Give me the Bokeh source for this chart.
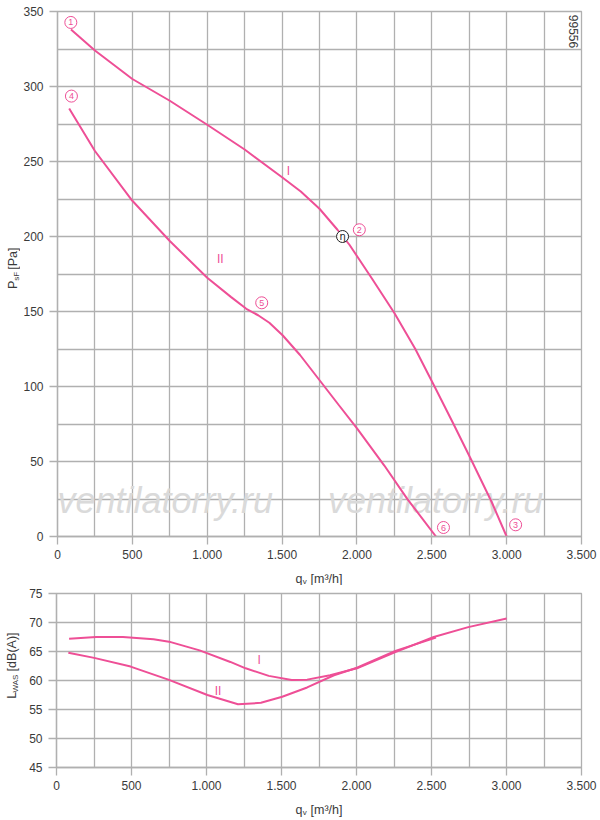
import math
from bokeh.plotting import figure
from bokeh.layouts import column, row
from bokeh.models import FixedTicker, Label, Range1d, CustomJSTickFormatter
from bokeh.core.properties import value
from bokeh.embed import file_html
from bokeh.resources import INLINE

# ---------------- data ----------------
x_major = [0, 500, 1000, 1500, 2000, 2500, 3000, 3500]
x_minor = [250, 750, 1250, 1750, 2250, 2750, 3250]
p_major = [0, 50, 100, 150, 200, 250, 300, 350]
p_minor = [25, 75, 125, 175, 225, 275, 325]
l_major = [45, 50, 55, 60, 65, 70, 75]

# pressure curve I
qv_I = [90, 250, 500, 750, 1000, 1250, 1500, 1625, 1750, 1870, 1950, 2000, 2100,
        2250, 2390, 2515, 2640, 2760, 2900, 3000]
p_I = [338, 324, 305, 290.5, 274.5, 258, 239.5, 230, 218.5, 204.5, 194.5, 187, 172,
       149, 125, 100.7, 76, 51.8, 23, 0]

# pressure curve II
qv_II = [78, 250, 500, 750, 1000, 1160, 1261, 1340, 1415, 1505, 1620, 1748, 1876,
         2003, 2183, 2336, 2528]
p_II = [285.3, 257, 223.8, 197, 172.5, 159.6, 151.8, 147.5, 142.5, 134, 121, 104.5,
        88, 71.8, 47.3, 25.1, 0]

# operating point markers (circled numbers)
mk_text = ["1", "2", "3", "4", "5", "6"]
mk_q = [89, 2016, 3060, 93, 1364, 2578]
mk_p = [342.7, 204.5, 7.8, 293.6, 155.8, 6.0]

# efficiency point
eta_q = [1904]
eta_p = [200]

# curve name labels (pressure chart)
cl_text = ["I", "II"]
cl_q = [1542, 1087]
cl_p = [243.8, 185]

# sound power curve I
qv_LI = [84, 264, 443, 647, 750, 954, 1159, 1261, 1415, 1568, 1671, 1824, 2003,
         2259, 2515, 2745, 3001]
L_I = [67.2, 67.5, 67.5, 67.1, 66.7, 65.2, 63.2, 62.1, 60.8, 60.1, 60.15, 60.9,
       62.1, 64.9, 67.5, 69.2, 70.7]

# sound power curve II
qv_LII = [79, 251, 494, 750, 1006, 1210, 1363, 1505, 1671, 1850, 2003, 2259, 2530]
L_II = [64.8, 63.9, 62.4, 60.1, 57.5, 55.9, 56.15, 57.2, 58.8, 60.9, 62.2, 65.1, 67.4]

# curve name labels (sound chart)
cl2_q = [1351, 1077]
cl2_L = [63.5, 58.2]

PINK = "#ee4f96"
GRID = "#b0b0b0"
FONT = "Liberation Sans"
TXT = "#3a3a3a"
MAIN = "12.5px"
SUB = "8px"

fmt = CustomJSTickFormatter(code="""
if (tick >= 1000) { return (tick/1000).toFixed(3); }
return tick.toString();
""")


def style(p, ymaj, ymin):
    p.xaxis.ticker = FixedTicker(ticks=x_major, minor_ticks=x_minor)
    p.yaxis.ticker = FixedTicker(ticks=ymaj, minor_ticks=ymin)
    p.xaxis.formatter = fmt
    for ax in (p.xaxis, p.yaxis):
        ax.axis_line_color = GRID
        ax.axis_line_width = 1.3
        ax.major_tick_line_color = GRID
        ax.major_tick_line_width = 1.3
        ax.major_tick_out = 8
        ax.major_tick_in = 0
        ax.minor_tick_line_color = None
        ax.major_label_text_font = FONT
        ax.major_label_text_font_size = "12px"
        ax.major_label_text_color = TXT
    p.yaxis.major_label_standoff = 6
    p.xaxis.major_label_standoff = 5
    for g in (p.xgrid, p.ygrid):
        g.grid_line_color = GRID
        g.grid_line_width = 1.3
        g.grid_line_alpha = 1.0
        g.minor_grid_line_color = GRID
        g.minor_grid_line_width = 1.3
    p.outline_line_color = GRID
    p.outline_line_width = 1.3
    p.background_fill_color = "white"
    p.border_fill_color = "white"


def label_fig(w, h):
    f = figure(width=w, height=h, x_range=Range1d(0, w), y_range=Range1d(0, h),
               output_backend="svg", toolbar_location=None,
               x_axis_location=None, y_axis_location=None, min_border=0)
    f.grid.visible = False
    f.outline_line_color = None
    f.background_fill_color = "white"
    f.border_fill_color = "white"
    return f


def put(f, x, y, text, size=MAIN, angle=0.0, baseline="middle"):
    f.text(x=[x], y=[y], text=[text], angle=angle, text_align="left",
           text_baseline=baseline, text_font=value(FONT), text_font_size=size,
           text_color=TXT)


# ---------------- top chart ----------------
H1 = 564
p1 = figure(width=580, height=H1, x_range=Range1d(0, 3500), y_range=Range1d(0, 350),
            output_backend="svg", toolbar_location=None,
            min_border_left=36, min_border_right=19, min_border_top=11, min_border_bottom=28)
style(p1, p_major, p_minor)

# page pixel -> data helpers (for annotation placement only)
def tx(px):
    return (px - 56) / 0.15

def ty(py):
    return (536 - py) / 1.5

p1.text(x=[tx(56), tx(327)], y=[ty(500), ty(500)], text=["ventilatorry.ru", "ventilatorry.ru"],
        text_font=value(FONT), text_font_style="italic", text_font_size="36px",
        text_color="#dadada", text_baseline="alphabetic", text_align="left")

p1.line(qv_I, p_I, line_color=PINK, line_width=2)
p1.line(qv_II, p_II, line_color=PINK, line_width=2)

p1.scatter(mk_q, mk_p, marker="circle", size=12, fill_color="white", line_color=PINK, line_width=1)
p1.text(mk_q, mk_p, text=mk_text, text_align="center", text_baseline="middle",
        text_font=value(FONT), text_font_size="9px", text_color=PINK)

p1.scatter(eta_q, eta_p, marker="circle", size=12, fill_color="white", line_color="#222222", line_width=1)
p1.text(eta_q, eta_p, text=["η"], text_align="center", text_baseline="middle",
        text_font=value("DejaVu Sans"), text_font_size="10px", text_color="#222222")

p1.text(cl_q, cl_p, text=cl_text, text_align="center", text_baseline="middle",
        text_font=value(FONT), text_font_size="12px", text_color=PINK)

p1.add_layout(Label(x=tx(573), y=ty(31), text="99556", angle=-math.pi / 2,
                    text_align="center", text_baseline="middle", text_font=FONT,
                    text_font_size="12px", text_color=TXT, background_fill_color="white"))

# y axis label  P_sF [Pa]  (figure at page x 0..20, y 0..564)
fy1 = label_fig(20, H1)
put(fy1, 12, H1 - 298, "P", angle=math.pi / 2)
put(fy1, 15.5, H1 - 289.2, "sF", size=SUB, angle=math.pi / 2)
put(fy1, 12, H1 - 277.5, "[Pa]", angle=math.pi / 2)

# x axis label  q_v [m³/h]  (figure at page y 564..585)
fx1 = label_fig(600, 585 - H1)
put(fx1, 295, 585 - 578, "q", baseline="alphabetic")
put(fx1, 302.2, 585 - 580.5, "v", size=SUB, baseline="alphabetic")
put(fx1, 310, 585 - 578, "[m³/h]", baseline="alphabetic")

# ---------------- bottom chart ----------------
H2 = 210
p2 = figure(width=580, height=H2, x_range=Range1d(0, 3500), y_range=Range1d(45, 75),
            output_backend="svg", toolbar_location=None,
            min_border_left=36, min_border_right=19, min_border_top=8, min_border_bottom=28)
style(p2, l_major, [])

p2.line(qv_LI, L_I, line_color=PINK, line_width=2)
p2.line(qv_LII, L_II, line_color=PINK, line_width=2)
p2.text(cl2_q, cl2_L, text=cl_text, text_align="center", text_baseline="middle",
        text_font=value(FONT), text_font_size="12px", text_color=PINK)

TOP2 = 585
fy2 = label_fig(20, H2)
put(fy2, 11, TOP2 + H2 - 712, "L", angle=math.pi / 2)
put(fy2, 14.5, TOP2 + H2 - 704.5, "WAS", size=SUB, angle=math.pi / 2)
put(fy2, 11, TOP2 + H2 - 679, "[dB(A)]", angle=math.pi / 2)

B2 = TOP2 + H2
fx2 = label_fig(600, 820 - B2)
put(fx2, 295, 820 - 809, "q", baseline="alphabetic")
put(fx2, 302.2, 820 - 811.5, "v", size=SUB, baseline="alphabetic")
put(fx2, 310, 820 - 809, "[m³/h]", baseline="alphabetic")

layout = column(row(fy1, p1), fx1, row(fy2, p2), fx2)
open("out.html", "w").write(file_html(layout, INLINE))
